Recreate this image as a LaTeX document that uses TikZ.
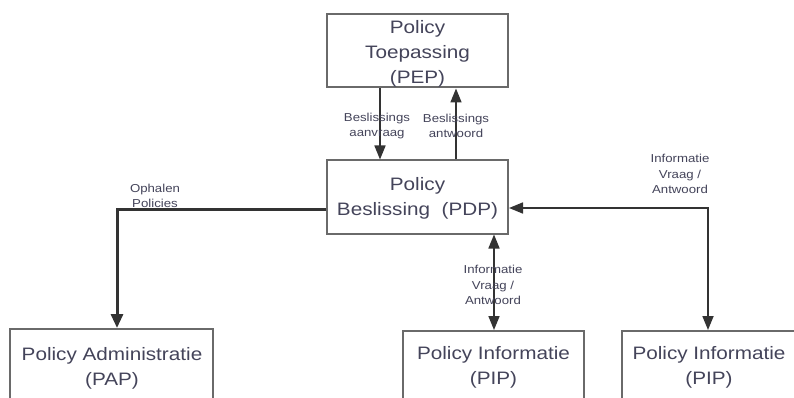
\documentclass[tikz,border=0pt]{standalone}
\usepackage{fontspec}
\setmainfont{Liberation Sans}[FakeStretch=1.15]
\usetikzlibrary{arrows.meta}
\definecolor{txt}{HTML}{44445A}
\definecolor{boxline}{HTML}{6A6A6A}
\definecolor{conn}{HTML}{333333}
\tikzset{
  box/.style={draw=boxline, line width=2pt, rectangle, inner sep=0pt},
  boxtext/.style={align=center, text=txt, font=\fontsize{18}{25}\selectfont, inner sep=0pt},
  lbl/.style={align=center, text=txt, font=\fontsize{11.5}{15.5}\selectfont, inner sep=0pt},
  conline/.style={draw=conn, line width=1.7pt, -{Triangle[length=14pt,width=11pt]}},
  biline/.style={draw=conn, line width=1.7pt, {Triangle[length=14pt,width=11pt]}-{Triangle[length=14pt,width=11pt]}},
  thickline/.style={draw=conn, line width=3pt, -{Triangle[length=14pt,width=12pt]}}
}
\begin{document}
\begin{tikzpicture}[x=1pt,y=-1pt]
\useasboundingbox (0,0) rectangle (794,398);
\clip (0,0) rectangle (794,398);
\fill[white] (0,0) rectangle (794,398);
% boxes
\node[box, minimum width=181pt, minimum height=73pt] (pep) at (417.5,51) {};
\node[box, minimum width=181pt, minimum height=73pt] (pdp) at (417.5,197) {};
\node[box, minimum width=203pt, minimum height=111pt] (pap) at (111.5,384.5) {};
\node[box, minimum width=181pt, minimum height=109pt] (pip1) at (493.5,385.5) {};
\node[box, minimum width=174pt, minimum height=109pt] (pip2) at (709,385.5) {};
\node[boxtext] (peptxt) at (417.5,54) {Policy\\Toepassing\\(PEP)};
\node[boxtext] (pdptxt) at (417.5,198) {Policy\\Beslissing\ \ (PDP)};
\node[boxtext] (paptxt) at (112,368) {Policy Administratie\\(PAP)};
\node[boxtext] (pip1txt) at (493.5,367.5) {Policy Informatie\\(PIP)};
\node[boxtext] (pip2txt) at (709,367.5) {Policy Informatie\\(PIP)};
% coordinates
\coordinate (xa) at (380,0);
\coordinate (xb) at (456,0);
\coordinate (k1) at (117,209);
\coordinate (xc) at (494,0);
\coordinate (k3) at (708,208);
% connectors
\draw[conline] (pep.south -| xa) -- (pdp.north -| xa);
\draw[conline] (pdp.north -| xb) -- (pep.south -| xb);
\draw[thickline] (pdp.west |- k1) -- (k1) -- (pap.north -| k1);
\draw[biline] (pdp.south -| xc) -- (pip1.north -| xc);
\draw[biline] (pdp.east |- k3) -- (k3) -- (pip2.north -| k3);
% labels
\node[lbl] (l1) at (377,126) {Beslissings\\aanvraag};
\node[lbl] (l2) at (456,126) {Beslissings\\antwoord};
\node[lbl] (l3) at (155,196) {Ophalen\\Policies};
\node[lbl] (l4) at (493,285) {Informatie\\Vraag /\\Antwoord};
\node[lbl] (l5) at (680,174) {Informatie\\Vraag /\\Antwoord};
\end{tikzpicture}
\end{document}
